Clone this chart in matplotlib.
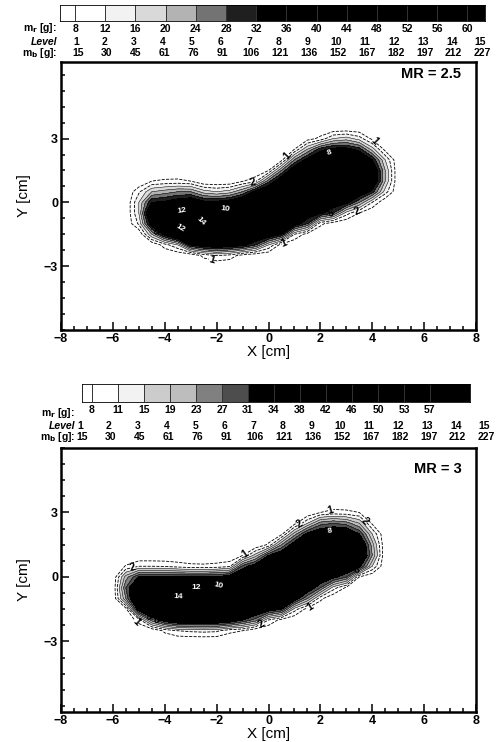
import numpy as np
import matplotlib.pyplot as plt
from matplotlib.ticker import MultipleLocator

plt.rcParams['font.family'] = ['Liberation Sans', 'DejaVu Sans']
plt.rcParams['font.weight'] = 'bold'
plt.rcParams['mathtext.default'] = 'bf'

# ---- legend rows ----
mr_top = [8, 12, 16, 20, 24, 28, 32, 36, 40, 44, 48, 52, 56, 60]
mr_bot = [8, 11, 15, 19, 23, 27, 31, 34, 38, 42, 46, 50, 53, 57]
level_no = list(range(1, 16))
mb_vals = [15, 30, 45, 61, 76, 91, 106, 121, 136, 152, 167, 182, 197, 212, 227]

# grey shades of the contour levels (below 1, 1-2, 2-3, ... 6-7, above 7)
shades_top = ['white', 'white', '0.95', '0.85', '0.70', '0.45', '0.12', 'black']
shades_bot = ['white', 'white', '0.95', '0.80', '0.74', '0.50', '0.30', 'black']
fill_bounds = [-1, 1, 2, 3, 4, 5, 6, 7, 20]

# ---- measured level field, MR = 2.5 (rows from y=3.5 down to y=-3.0) ----
x_top = [-5.5, -5.0, -4.5, -4.0, -3.5, -3.0, -2.5, -2.0, -1.5, -1.0, -0.5,
         0.0, 0.5, 1.0, 1.5, 2.0, 2.5, 3.0, 3.5, 4.0, 4.5, 5.0]
y_grid = [3.5, 3.0, 2.5, 2.0, 1.5, 1.0, 0.5, 0.0, -0.5, -1.0, -1.5, -2.0, -2.5, -3.0]
z_top = [
    [0, 0, 0, 0, 0, 0, 0, 0, 0, 0, 0, 0, 0, 0, 0, 0, 0, 0, 0, 0, 0, 0],
    [0, 0, 0, 0, 0, 0, 0, 0, 0, 0, 0, 0, 0, 0, 0.5, 1.3, 3, 3.5, 2.5, 0.7, 0, 0],
    [0, 0, 0, 0, 0, 0, 0, 0, 0, 0, 0, 0, 0, 1, 4, 6.5, 7.5, 7.5, 6.5, 3.5, 0.6, 0],
    [0, 0, 0, 0, 0, 0, 0, 0, 0, 0, 0, 0, 0.6, 5, 7.5, 9, 9.5, 10, 9, 7, 3, 0],
    [0, 0, 0, 0, 0, 0, 0, 0, 0, 0, 0, 1, 5, 8.5, 9, 9.5, 10, 10, 10, 9, 4, 0],
    [0, 0, 1, 1.2, 1.25, 1, 0, 0, 0, 0.9, 1.7, 5.5, 8.5, 9, 9, 9, 9.5, 10, 10, 9, 4, 0],
    [0, 1.8, 4, 4.5, 5, 5, 3.5, 3, 3.5, 5, 7.5, 9, 9, 8, 8, 8, 8.5, 9, 8.5, 6.5, 2.5, 0],
    [0, 3, 7, 7.3, 8, 8.5, 7.5, 7.5, 8, 9, 9, 9, 8, 8, 8, 8, 8, 7.5, 5, 2, 0, 0],
    [0, 3, 10, 11, 13, 14, 13, 12, 11, 10, 9, 9, 8, 8.5, 8, 7.3, 6, 2.5, 1, 0, 0, 0],
    [0, 2.2, 8, 12, 13, 14.5, 14, 12, 10, 10, 10, 9, 9, 8, 6, 1.3, 0.3, 0, 0, 0, 0, 0],
    [0, 0, 4, 7.5, 10, 12, 12, 11, 10, 9, 9, 8.5, 7, 2, 0.5, 0, 0, 0, 0, 0, 0, 0],
    [0, 0, 0, 1.5, 3, 7, 8, 8.5, 8, 7.5, 6, 3, 0.5, 0, 0, 0, 0, 0, 0, 0, 0, 0],
    [0, 0, 0, 0, 0, 0, 1.3, 2, 1.6, 0.5, 0, 0, 0, 0, 0, 0, 0, 0, 0, 0, 0, 0],
    [0, 0, 0, 0, 0, 0, 0, 0, 0, 0, 0, 0, 0, 0, 0, 0, 0, 0, 0, 0, 0, 0],
]

# ---- measured level field, MR = 3 ----
x_bot = [-6.0, -5.5, -5.0, -4.5, -4.0, -3.5, -3.0, -2.5, -2.0, -1.5, -1.0,
         -0.5, 0.0, 0.5, 1.0, 1.5, 2.0, 2.5, 3.0, 3.5, 4.0, 4.5]
z_bot = [
    [0, 0, 0, 0, 0, 0, 0, 0, 0, 0, 0, 0, 0, 0, 0, 0, 0, 0, 0, 0, 0, 0],
    [0, 0, 0, 0, 0, 0, 0, 0, 0, 0, 0, 0, 0, 0, 0, 0, 1, 1.4, 1.3, 1, 0, 0],
    [0, 0, 0, 0, 0, 0, 0, 0, 0, 0, 0, 0, 0, 0, 0.6, 3, 5.5, 6, 5.5, 4, 0.8, 0],
    [0, 0, 0, 0, 0, 0, 0, 0, 0, 0, 0, 0, 0, 0.7, 4.5, 7.5, 8.5, 9, 9, 7, 3, 0],
    [0, 0, 0, 0, 0, 0, 0, 0, 0, 0, 0, 0, 1.2, 5, 8, 9, 9, 9, 9, 9.5, 4.5, 0],
    [0, 0, 0, 0, 0, 0, 0, 0, 0, 0, 1, 3.5, 7, 8.5, 9, 9, 9, 9, 9, 10, 5, 0],
    [0, 1.1, 2, 2, 1.9, 1.6, 1.3, 1.25, 1.4, 1.8, 6.3, 8, 9, 9, 9, 9, 9, 9, 9, 7.5, 3, 0],
    [0, 4.5, 7.1, 7.1, 7.1, 7.1, 7.1, 7.1, 7.3, 7.8, 9, 9, 9, 9, 9, 9, 8.5, 7.5, 6, 1, 0, 0],
    [0, 6, 10, 11, 12, 12, 12, 12, 11, 10, 10, 9, 9, 9, 9, 8.5, 6, 2.5, 0.8, 0, 0, 0],
    [0, 5, 11, 13, 14, 14.5, 14, 13, 12, 11, 10, 10, 9, 9, 8, 5, 1.3, 0, 0, 0, 0, 0],
    [0, 0.5, 8, 11, 13, 14, 13, 12, 11, 10, 10, 9, 8, 7, 2.5, 0.5, 0, 0, 0, 0, 0, 0],
    [0, 0, 1.5, 5.5, 8, 9, 9, 9, 9, 8.5, 7, 5.5, 2, 0.6, 0, 0, 0, 0, 0, 0, 0, 0],
    [0, 0, 0, 0, 1.25, 2, 2.2, 2.3, 2.2, 1.3, 1, 0, 0, 0, 0, 0, 0, 0, 0, 0, 0, 0],
    [0, 0, 0, 0, 0, 0, 0, 0, 0, 0, 0, 0, 0, 0, 0, 0, 0, 0, 0, 0, 0, 0],
]

# where the contour numbers sit (near these points)
top_lbl_outer = [(4.1, 2.9), (0.6, 2.3), (-0.6, 1.0), (3.4, -0.3), (0.6, -1.9), (-2.2, -2.7)]
top_lbl_mid = [(2.3, -0.1), (-4.4, -1.4)]
top_lbl_inner = [(-3.3, -0.6), (-3.4, -1.2), (-2.6, -0.85), (-1.7, -0.55), (2.4, 2.2)]
bot_lbl_outer = [(-5.2, 0.3), (-5.2, -2.2), (-1.0, 1.2), (1.3, 2.3), (2.4, 3.1), (3.5, 2.4),
                 (1.6, -1.4), (-0.3, -2.1)]
bot_lbl_mid = [(-4.6, -1.8), (-4.3, -1.9), (3.3, 0.5)]
bot_lbl_inner = [(-3.5, -1.1), (-2.8, -0.7), (-1.9, -0.3), (2.4, 1.8)]

W, H = 501, 742
fig = plt.figure(figsize=(W / 100, H / 100), dpi=100)


def px_axes(l, t, r, b):
    return fig.add_axes([l / W, 1 - b / H, (r - l) / W, (b - t) / H])


def legend_block(cb_rect, cb_lim, mr, shades, mr_lab_x, rows_y, lev_x0, mb_x0, step):
    # colour bar with the m_r scale
    cax = px_axes(*cb_rect)
    edges = [cb_lim[0]] + list(range(len(mr))) + [cb_lim[1]]
    cols = shades + ['black'] * (len(edges) - 1 - len(shades))
    for i in range(len(edges) - 1):
        cax.axvspan(edges[i], edges[i + 1], color=cols[i], lw=0)
    cax.vlines(range(len(mr)), 0, 1, color='0.2', lw=0.7)
    cax.set_xlim(cb_lim)
    cax.set_ylim(0, 1)
    cax.set_yticks([])
    cax.set_xticks(range(len(mr)))
    cax.set_xticklabels([str(v) for v in mr], fontsize=7.5)
    cax.tick_params(length=0, pad=2)
    for s in cax.spines.values():
        s.set_linewidth(0.6)
    fig.text(mr_lab_x / W, 1 - rows_y[0] / H, r'm$_r$ [g]:', ha='right',
             va='center', fontsize=7.5)
    fig.text(mr_lab_x / W, 1 - rows_y[1] / H, 'Level', ha='right', va='center',
             fontsize=7.5, style='italic')
    fig.text(mr_lab_x / W, 1 - rows_y[2] / H, r'm$_b$ [g]:', ha='right',
             va='center', fontsize=7.5)
    for k, (lv, mbv) in enumerate(zip(level_no, mb_vals)):
        fig.text((lev_x0 + step * k) / W, 1 - rows_y[1] / H, str(lv),
                 ha='center', va='center', fontsize=7.5)
        fig.text((mb_x0 + step * k) / W, 1 - rows_y[2] / H, str(mbv),
                 ha='center', va='center', fontsize=7.5)


def field_panel(rect, ylim, xs, z, shades, tag, tag_y, lbl_outer, lbl_mid, lbl_inner):
    ax = px_axes(*rect)
    zz = np.pad(np.array(z, dtype=float)[::-1], 1)
    xx = [xs[0] - 0.5] + list(xs) + [xs[-1] + 0.5]
    yy = [y_grid[-1] - 0.5] + y_grid[::-1] + [y_grid[0] + 0.5]
    X, Y = np.meshgrid(xx, yy)
    ax.contourf(X, Y, zz, levels=fill_bounds, colors=shades)
    outer = ax.contour(X, Y, zz, levels=[1, 2], colors='k', linewidths=0.6,
                       linestyles='--')
    mid = ax.contour(X, Y, zz, levels=[3, 4, 5, 6], colors='k', linewidths=0.35)
    inner = ax.contour(X, Y, zz, levels=[8, 10, 12, 14], colors='k',
                       linewidths=0.3)
    ax.clabel(outer, manual=lbl_outer, fmt='%d', fontsize=7.5, inline=True,
              inline_spacing=1)
    ax.clabel(mid, manual=lbl_mid, fmt='%d', fontsize=7, inline=True,
              inline_spacing=1)
    ax.clabel(inner, manual=lbl_inner, fmt='%d', fontsize=6, colors='white',
              inline=True)
    ax.text(0.965, tag_y, tag, transform=ax.transAxes, ha='right', va='center',
            fontsize=10.5)
    ax.set_xlim(-8, 8)
    ax.set_ylim(ylim)
    ax.set_xticks(range(-8, 9, 2))
    ax.set_yticks([-3, 0, 3])
    ax.xaxis.set_minor_locator(MultipleLocator(0.5))
    ax.yaxis.set_minor_locator(MultipleLocator(0.75))
    ax.tick_params(which='both', direction='in', width=1.1, labelsize=9)
    ax.tick_params(which='major', length=6, pad=2)
    ax.tick_params(which='minor', length=3)
    for s in ax.spines.values():
        s.set_linewidth(1.8)
    ax.set_xlabel('X [cm]', fontsize=11, labelpad=0)
    ax.set_ylabel('Y [cm]', fontsize=11, labelpad=9)
    return ax


# upper panel (MR = 2.5)
legend_block((60, 5, 485, 21), (-0.5, 13.58), mr_top, shades_top, 57,
             (28, 42, 53), 76, 78, 28.9)
field_panel((61, 62, 476, 330), (-6.0, 6.6), x_top, z_top, shades_top,
            'MR = 2.5', 0.955, top_lbl_outer, top_lbl_mid, top_lbl_inner)

# lower panel (MR = 3)
legend_block((82, 384, 470, 402), (-0.385, 14.54), mr_bot, shades_bot, 75,
             (413, 426, 437), 80, 82, 28.9)
field_panel((61, 448, 476, 712), (-6.28, 6.0), x_bot, z_bot, shades_bot,
            'MR = 3', 0.92, bot_lbl_outer, bot_lbl_mid, bot_lbl_inner)

fig.savefig('out.png', dpi=100)
